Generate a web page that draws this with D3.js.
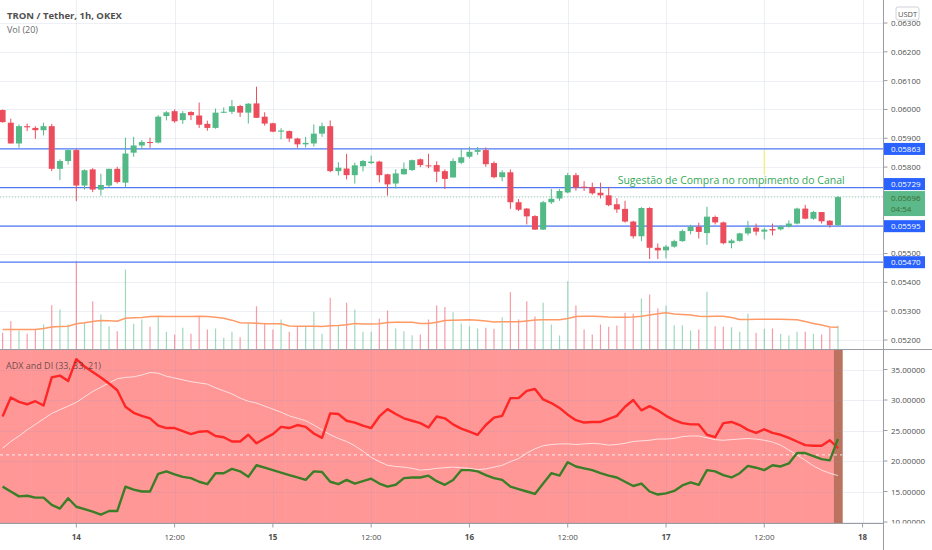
<!DOCTYPE html>
<html>
<head>
<meta charset="utf-8">
<script src="https://cdn.jsdelivr.net/npm/d3@7"></script>
<style>
  html, body { margin: 0; padding: 0; background: #fff; }
  svg { display: block; font-family: "Open Sans", "Liberation Sans", sans-serif; }
</style>
</head>
<body>
<div id="chart"></div>
<script>
// TRON / Tether, 1h, OKEX -- bars from 13th 15:00 to 17th 21:00
const openPrices = [
  0.05998, 0.05954, 0.05882, 0.05942, 0.05936, 0.05928, 0.05942, 0.05794, 0.05821, 0.05859,
  0.05736, 0.05792, 0.05722, 0.05736, 0.05794, 0.05746, 0.05850, 0.05875, 0.05887, 0.05885,
  0.05977, 0.05994, 0.05963, 0.05991, 0.05979, 0.05950, 0.05936, 0.05989, 0.05992, 0.06012,
  0.05989, 0.06021, 0.05975, 0.05952, 0.05923, 0.05925, 0.05899, 0.05879, 0.05882, 0.05916,
  0.05942, 0.05786, 0.05795, 0.05772, 0.05803, 0.05814, 0.05819, 0.05775, 0.05743, 0.05775,
  0.05790, 0.05827, 0.05806, 0.05807, 0.05786, 0.05764, 0.05815, 0.05836, 0.05853, 0.05859,
  0.05814, 0.05765, 0.05782, 0.05678, 0.05656, 0.05630, 0.05583, 0.05678, 0.05691, 0.05712,
  0.05772, 0.05732, 0.05731, 0.05711, 0.05702, 0.05671, 0.05655, 0.05611, 0.05560, 0.05658,
  0.05520, 0.05511, 0.05524, 0.05543, 0.05578, 0.05593, 0.05571, 0.05627, 0.05608, 0.05536,
  0.05544, 0.05570, 0.05590, 0.05576, 0.05585, 0.05584, 0.05594, 0.05604, 0.05656, 0.05621,
  0.05644, 0.05614, 0.05599
];
const highPrices = [
  0.06000, 0.05968, 0.05948, 0.05951, 0.05942, 0.05954, 0.05950, 0.05827, 0.05861, 0.05864,
  0.05792, 0.05796, 0.05777, 0.05794, 0.05801, 0.05902, 0.05905, 0.05894, 0.05902, 0.05980,
  0.05994, 0.06000, 0.05994, 0.05994, 0.06024, 0.05961, 0.06003, 0.06007, 0.06033, 0.06016,
  0.06022, 0.06079, 0.05990, 0.05954, 0.05935, 0.05927, 0.05902, 0.05905, 0.05948, 0.05954,
  0.05962, 0.05817, 0.05846, 0.05815, 0.05825, 0.05840, 0.05822, 0.05777, 0.05792, 0.05816,
  0.05826, 0.05830, 0.05846, 0.05820, 0.05792, 0.05830, 0.05863, 0.05870, 0.05870, 0.05868,
  0.05820, 0.05789, 0.05792, 0.05689, 0.05658, 0.05633, 0.05683, 0.05724, 0.05724, 0.05780,
  0.05780, 0.05751, 0.05746, 0.05746, 0.05731, 0.05692, 0.05683, 0.05614, 0.05661, 0.05661,
  0.05535, 0.05530, 0.05548, 0.05583, 0.05600, 0.05607, 0.05662, 0.05632, 0.05611, 0.05550,
  0.05572, 0.05613, 0.05604, 0.05590, 0.05604, 0.05597, 0.05615, 0.05659, 0.05669, 0.05648,
  0.05644, 0.05616, 0.05700
];
const lowPrices = [
  0.05954, 0.05882, 0.05867, 0.05925, 0.05898, 0.05910, 0.05786, 0.05755, 0.05809, 0.05682,
  0.05722, 0.05713, 0.05701, 0.05730, 0.05743, 0.05729, 0.05836, 0.05863, 0.05867, 0.05882,
  0.05962, 0.05954, 0.05950, 0.05963, 0.05936, 0.05926, 0.05933, 0.05987, 0.05984, 0.05974,
  0.05951, 0.05971, 0.05944, 0.05921, 0.05896, 0.05887, 0.05867, 0.05868, 0.05871, 0.05905,
  0.05782, 0.05771, 0.05757, 0.05743, 0.05785, 0.05811, 0.05747, 0.05701, 0.05726, 0.05774,
  0.05786, 0.05800, 0.05796, 0.05748, 0.05724, 0.05764, 0.05810, 0.05830, 0.05842, 0.05801,
  0.05761, 0.05751, 0.05655, 0.05647, 0.05601, 0.05582, 0.05582, 0.05672, 0.05683, 0.05709,
  0.05718, 0.05717, 0.05704, 0.05691, 0.05664, 0.05641, 0.05607, 0.05552, 0.05543, 0.05481,
  0.05481, 0.05483, 0.05520, 0.05541, 0.05567, 0.05552, 0.05530, 0.05601, 0.05532, 0.05518,
  0.05541, 0.05563, 0.05563, 0.05549, 0.05563, 0.05580, 0.05590, 0.05601, 0.05619, 0.05617,
  0.05604, 0.05590, 0.05594
];
const closePrices = [
  0.05956, 0.05882, 0.05942, 0.05938, 0.05928, 0.05942, 0.05794, 0.05821, 0.05859, 0.05736,
  0.05789, 0.05722, 0.05738, 0.05794, 0.05748, 0.05847, 0.05875, 0.05887, 0.05885, 0.05975,
  0.05990, 0.05959, 0.05987, 0.05980, 0.05947, 0.05936, 0.05989, 0.05992, 0.06011, 0.05989,
  0.06020, 0.05971, 0.05951, 0.05923, 0.05927, 0.05899, 0.05879, 0.05884, 0.05916, 0.05942,
  0.05786, 0.05798, 0.05772, 0.05806, 0.05821, 0.05819, 0.05772, 0.05740, 0.05778, 0.05794,
  0.05824, 0.05807, 0.05803, 0.05784, 0.05759, 0.05821, 0.05834, 0.05853, 0.05859, 0.05810,
  0.05765, 0.05782, 0.05678, 0.05652, 0.05629, 0.05583, 0.05678, 0.05690, 0.05717, 0.05772,
  0.05729, 0.05728, 0.05709, 0.05702, 0.05668, 0.05653, 0.05611, 0.05560, 0.05658, 0.05520,
  0.05511, 0.05524, 0.05543, 0.05578, 0.05593, 0.05575, 0.05628, 0.05608, 0.05536, 0.05545,
  0.05570, 0.05590, 0.05576, 0.05583, 0.05580, 0.05594, 0.05604, 0.05656, 0.05621, 0.05644,
  0.05612, 0.05599, 0.05696
];
// volume (thousand TRX) and its 20-bar average
const volumes = [
  333, 567, 380, 313, 400, 500, 887, 800, 500, 1767,
  547, 967, 700, 467, 367, 1600, 513, 600, 453, 667,
  353, 300, 433, 313, 667, 400, 420, 233, 353, 247,
  520, 867, 513, 400, 600, 353, 467, 467, 753, 313,
  1033, 487, 933, 800, 353, 353, 613, 780, 420, 367,
  287, 300, 600, 880, 850, 747, 520, 467, 420, 433,
  413, 647, 1147, 600, 967, 660, 933, 500, 280, 1367,
  880, 400, 300, 500, 453, 480, 733, 713, 1020, 1100,
  820, 880, 487, 487, 380, 400, 1153, 467, 453, 447,
  353, 713, 333, 413, 420, 313, 280, 353, 353, 313,
  300, 433, 480
];
const volumeMA = [
  400, 400, 400, 400, 400, 420, 450, 460, 467, 515,
  535, 560, 580, 575, 567, 625, 633, 640, 660, 667,
  660, 660, 660, 660, 667, 660, 645, 627, 587, 535,
  530, 525, 515, 515, 513, 470, 465, 465, 467, 460,
  475, 480, 495, 520, 510, 510, 515, 540, 547, 547,
  547, 520, 520, 545, 580, 587, 590, 593, 587, 570,
  550, 553, 553, 553, 570, 590, 593, 595, 595, 620,
  660, 667, 667, 660, 650, 645, 647, 650, 667, 690,
  713, 733, 710, 700, 690, 665, 660, 665, 665, 640,
  600, 600, 605, 607, 607, 605, 600, 593, 560, 520,
  490, 450, 447
];
// ADX and DI (33, 33, 21)
const diPlus = [
  15.8, 15.0, 14.2, 14.3, 14.0, 14.0, 12.8, 12.2, 13.9, 12.5,
  12.1, 11.7, 11.2, 11.8, 11.8, 15.8, 15.3, 15.0, 15.0, 17.9,
  18.3, 17.8, 17.4, 17.2, 16.6, 16.2, 18.0, 18.0, 18.7, 18.3,
  17.4, 19.3, 18.9, 18.5, 18.1, 17.7, 17.3, 16.9, 18.3, 18.2,
  16.6, 16.2, 16.9, 16.3, 16.7, 17.1, 16.3, 15.8, 16.1, 17.2,
  17.3, 17.3, 17.6, 16.7, 16.1, 16.9, 18.5, 18.5, 18.3, 17.7,
  17.2, 16.9, 15.8, 15.4, 15.0, 14.6, 16.3, 18.0, 17.6, 19.8,
  19.1, 18.8, 18.5, 18.0, 17.6, 17.3, 16.6, 15.9, 16.3, 15.0,
  14.5, 14.7, 15.1, 16.0, 16.5, 16.1, 18.5, 18.3, 17.7, 17.3,
  18.0, 19.2, 18.9, 18.5, 19.3, 19.1, 19.6, 21.3, 21.3, 20.8,
  20.3, 20.1, 23.6
];
const diMinus = [
  27.3, 30.4, 29.7, 29.3, 29.8, 29.1, 33.7, 34.0, 33.1, 36.7,
  35.5, 34.6, 33.7, 32.7, 31.6, 28.9, 27.9, 27.4, 27.0, 25.8,
  25.4, 25.4, 24.9, 24.4, 24.8, 24.9, 24.1, 23.9, 23.2, 23.2,
  24.3, 22.9, 23.7, 24.4, 25.6, 25.4, 25.9, 25.6, 24.5, 23.8,
  27.8, 27.7, 26.6, 26.3, 25.8, 25.4, 27.3, 28.5, 27.7, 27.0,
  26.6, 26.2, 25.5, 27.3, 27.0, 26.0, 25.3, 24.8, 24.3, 25.9,
  27.1, 27.4, 30.3, 30.3, 31.5, 31.8, 30.1, 29.5, 28.7, 27.6,
  26.7, 26.3, 26.4, 26.4, 26.9, 27.4, 28.9, 30.0, 28.3, 29.0,
  28.3, 27.4, 26.7, 26.2, 26.0, 26.0, 24.3, 23.9, 26.2, 26.4,
  25.9, 25.1, 24.6, 25.2, 24.6, 24.3, 23.8, 23.2, 22.6, 22.5,
  22.5, 23.4, 22.1
];
const adxValues = [
  22.1, 23.2, 24.1, 25.1, 26.0, 26.9, 27.8, 28.4, 29.0, 29.6,
  30.5, 31.4, 32.1, 32.8, 33.5, 33.7, 33.8, 34.1, 34.5, 34.4,
  33.9, 33.6, 33.3, 33.0, 32.8, 32.6, 32.0, 31.5, 31.0, 30.3,
  29.8, 29.5, 29.0, 28.5, 28.0, 27.4, 27.0, 26.6, 25.9, 25.1,
  24.3, 23.7, 23.2, 22.5, 21.6, 20.6, 19.9, 19.3, 19.1, 19.0,
  18.8, 18.5, 18.6, 18.8, 18.9, 19.0, 18.9, 18.8, 18.6, 18.7,
  19.0, 19.3, 19.9, 20.4, 21.3, 22.0, 22.5, 22.7, 22.8, 22.8,
  22.7, 22.8, 22.9, 22.8, 22.6, 22.7, 22.9, 23.2, 23.3, 23.4,
  23.6, 23.6, 23.7, 24.0, 24.1, 24.1, 23.8, 23.5, 23.4, 23.5,
  23.6, 23.7, 23.6, 23.4, 23.1, 22.6, 21.8, 21.0, 20.1, 19.2,
  18.5, 18.0, 17.6
];
const adxKeyLevel = 21;

// drawn horizontal levels and the live price
const levelPrices = [0.05863, 0.05729, 0.05595, 0.05470];
const lastPrice = 0.05696;
const barCountdown = '04:54';

const priceTicks = [0.052, 0.053, 0.054, 0.055, 0.056, 0.057, 0.058, 0.059, 0.060, 0.061, 0.062, 0.063];
const adxTicks = [10, 15, 20, 25, 30, 35];
const timeTickBars = [9, 21, 33, 45, 57, 69, 81, 93, 105];
const timeTickLabels = ['14', '12:00', '15', '12:00', '16', '12:00', '17', '12:00', '18'];

const noteText = 'Sugestão de Compra no rompimento do Canal';
const noteBar = 75.1;
const notePrice = 0.05741;
const markBar = 93;
const markPrices = [0.05859, 0.05773];

// ---------------------------------------------------------------
const W = 932, H = 550;
const axisX = 883.5;
const mainBottom = 349.5;
const adxBottom = 523.5;

const UP = '#53b987', DOWN = '#eb4d5c';
const GRID = '#edf0f5';
const TEXT = '#4f4f4f';

const x = d3.scaleLinear().domain([0, 102]).range([2.6, 838]);
const step = x(1) - x(0);
const y = d3.scaleLinear().domain([0.052, 0.063]).range([340, 23]);
const yVol = d3.scaleLinear().domain([0, 2000]).range([mainBottom, mainBottom - 100]);
const yAdx = d3.scaleLinear().domain([10, 35]).range([522, 369.5]);
const fmtPrice = d3.format('.5f');

const svg = d3.select('#chart').append('svg')
  .attr('width', W)
  .attr('height', H);

svg.append('rect').attr('width', W).attr('height', H).attr('fill', '#fff');

const defs = svg.append('defs');
defs.append('clipPath').attr('id', 'clip-main')
  .append('rect').attr('x', 0).attr('y', 0).attr('width', axisX).attr('height', mainBottom);
defs.append('clipPath').attr('id', 'clip-adx')
  .append('rect').attr('x', 0).attr('y', mainBottom).attr('width', axisX).attr('height', adxBottom - mainBottom);
defs.append('clipPath').attr('id', 'clip-adx-axis')
  .append('rect').attr('x', axisX).attr('y', mainBottom).attr('width', W - axisX).attr('height', adxBottom - mainBottom);

// ADX pane background, coloured per bar (opaque so neighbours do not stack)
const adxPane = svg.append('g').attr('clip-path', 'url(#clip-adx)');
adxPane.selectAll('rect.bg').data(diPlus).enter().append('rect')
  .attr('x', (d, i) => x(i) - step / 2)
  .attr('y', mainBottom)
  .attr('width', step + 0.6)
  .attr('height', adxBottom - mainBottom)
  .attr('fill', (d, i) => d > diMinus[i] ? '#bb735f' : '#ff9797');

// grid (drawn over the pane colour, faint)
const grid = svg.append('g').attr('stroke-width', 1);
grid.selectAll('.hmain').data(priceTicks).enter().append('line')
  .attr('stroke', GRID)
  .attr('x1', 0).attr('x2', axisX)
  .attr('y1', d => Math.round(y(d)) + 0.5).attr('y2', d => Math.round(y(d)) + 0.5);
grid.selectAll('.hadx').data(adxTicks).enter().append('line')
  .attr('stroke', d => 'rgba(150,150,190,0.16)')
  .attr('x1', 0).attr('x2', axisX)
  .attr('y1', d => Math.round(yAdx(d)) + 0.5).attr('y2', d => Math.round(yAdx(d)) + 0.5);
grid.selectAll('.v').data(timeTickBars).enter().append('line')
  .attr('stroke', 'rgba(150,150,190,0.16)')
  .attr('x1', d => Math.round(x(d)) + 0.5).attr('x2', d => Math.round(x(d)) + 0.5)
  .attr('y1', 0).attr('y2', adxBottom);

adxPane.append('line')
  .attr('x1', 0).attr('x2', x(102) + step / 2)
  .attr('y1', yAdx(adxKeyLevel)).attr('y2', yAdx(adxKeyLevel))
  .attr('stroke', 'rgba(255,255,255,0.85)')
  .attr('stroke-dasharray', '3,3');

const adxLine = d3.line().x((d, i) => x(i)).y(d => yAdx(d));
const adxLines = svg.append('g').attr('clip-path', 'url(#clip-adx)');
adxLines.append('path').datum(adxValues)
  .attr('d', adxLine).attr('fill', 'none')
  .attr('stroke', 'rgba(255,255,255,0.7)').attr('stroke-width', 1);
adxLines.append('path').datum(diMinus)
  .attr('d', adxLine).attr('fill', 'none')
  .attr('stroke', '#ff2626').attr('stroke-width', 2.4).attr('stroke-linejoin', 'round');
adxLines.append('path').datum(diPlus)
  .attr('d', adxLine).attr('fill', 'none')
  .attr('stroke', '#3c7d28').attr('stroke-width', 2.4).attr('stroke-linejoin', 'round');

// main pane
const main = svg.append('g').attr('clip-path', 'url(#clip-main)');

main.selectAll('line.vol').data(volumes).enter().append('line')
  .attr('x1', (d, i) => x(i)).attr('x2', (d, i) => x(i))
  .attr('y1', yVol(0)).attr('y2', d => yVol(d))
  .attr('stroke', (d, i) => closePrices[i] >= openPrices[i] ? UP : DOWN)
  .attr('stroke-opacity', 0.55)
  .attr('stroke-width', 1.2);

main.append('path').datum(volumeMA)
  .attr('d', d3.line().x((d, i) => x(i)).y(d => yVol(d)))
  .attr('fill', 'none').attr('stroke', '#ff9a66').attr('stroke-width', 1.5);

main.selectAll('line.level').data(levelPrices).enter().append('line')
  .attr('x1', 0).attr('x2', axisX)
  .attr('y1', d => y(d)).attr('y2', d => y(d))
  .attr('stroke', '#4f78f5').attr('stroke-width', 1.3);

main.append('line')
  .attr('x1', 0).attr('x2', axisX)
  .attr('y1', y(lastPrice)).attr('y2', y(lastPrice))
  .attr('stroke', '#9fd6b4').attr('stroke-width', 1)
  .attr('stroke-dasharray', '1,2');

const candles = main.selectAll('g.candle').data(openPrices).enter().append('g')
  .attr('fill', (d, i) => closePrices[i] >= d ? UP : DOWN)
  .attr('stroke', (d, i) => closePrices[i] >= d ? UP : DOWN);
candles.append('line')
  .attr('x1', (d, i) => x(i)).attr('x2', (d, i) => x(i))
  .attr('y1', (d, i) => y(highPrices[i])).attr('y2', (d, i) => y(lowPrices[i]))
  .attr('stroke-width', 1);
candles.append('rect')
  .attr('stroke', 'none')
  .attr('x', (d, i) => x(i) - 3)
  .attr('width', 6)
  .attr('y', (d, i) => y(Math.max(d, closePrices[i])))
  .attr('height', (d, i) => Math.max(1, Math.abs(y(d) - y(closePrices[i]))));

main.append('line')
  .attr('x1', x(markBar)).attr('x2', x(markBar))
  .attr('y1', y(markPrices[0])).attr('y2', y(markPrices[1]))
  .attr('stroke', '#f5f06a').attr('stroke-width', 1.2);

main.append('text')
  .attr('x', x(noteBar)).attr('y', y(notePrice))
  .attr('font-size', 10.5)
  .attr('fill', '#36a957')
  .text(noteText);

// legends
svg.append('text').attr('x', 7).attr('y', 19)
  .attr('font-size', 9.5).attr('font-weight', 'bold').attr('fill', TEXT)
  .text('TRON / Tether, 1h, OKEX');
svg.append('text').attr('x', 7).attr('y', 33)
  .attr('font-size', 9).attr('fill', '#6a6a6a')
  .text('Vol (20)');
svg.append('text').attr('x', 6).attr('y', 369)
  .attr('font-size', 9).attr('fill', 'rgba(70,55,55,0.8)')
  .text('ADX and DI (33, 33, 21)');

// frame lines
svg.append('line').attr('x1', 0).attr('x2', W).attr('y1', mainBottom).attr('y2', mainBottom)
  .attr('stroke', '#9a9ca3');
svg.append('line').attr('x1', 0).attr('x2', axisX).attr('y1', adxBottom).attr('y2', adxBottom)
  .attr('stroke', '#9a9ca3');
svg.append('line').attr('x1', axisX).attr('x2', axisX).attr('y1', 0).attr('y2', H)
  .attr('stroke', '#9a9ca3');

// price-axis tags: level lines and the live price
const boxW = 41, boxH = 12;
const lastTop = y(lastPrice) - 6;
const lastH = 25;
const levelTops = levelPrices.map(p => {
  let top = y(p) - boxH / 2;
  if (top + boxH > lastTop - 1 && top < lastTop + lastH) top = lastTop - 1 - boxH;
  return top;
});
const tagSpans = levelTops.map(t => [t, t + boxH]).concat([[lastTop, lastTop + lastH]]);

// price axis; labels fully covered by a tag are left out, a half covered one is nudged up
const pAxis = svg.append('g');
pAxis.selectAll('line').data(priceTicks).enter().append('line')
  .attr('x1', axisX).attr('x2', axisX + 4)
  .attr('y1', d => y(d)).attr('y2', d => y(d))
  .attr('stroke', '#9a9ca3');
const tickLabelPos = priceTicks.map(p => {
  let base = y(p) + 3;
  for (const [t, b] of tagSpans) {
    if (base - 6 < b && base > t) {
      if (base - t < 3.5) base = t - 0.5;
      else return null;
    }
  }
  return base;
});
pAxis.selectAll('text').data(priceTicks.filter((p, i) => tickLabelPos[i] !== null)).enter().append('text')
  .attr('x', 891).attr('y', d => tickLabelPos[priceTicks.indexOf(d)])
  .attr('font-size', 8).attr('fill', TEXT)
  .text(d => fmtPrice(d));

// ADX axis
const aAxis = svg.append('g').attr('clip-path', 'url(#clip-adx-axis)');
aAxis.selectAll('line').data(adxTicks).enter().append('line')
  .attr('x1', axisX).attr('x2', axisX + 4)
  .attr('y1', d => yAdx(d)).attr('y2', d => yAdx(d))
  .attr('stroke', '#9a9ca3');
aAxis.selectAll('text').data(adxTicks).enter().append('text')
  .attr('x', 891).attr('y', d => yAdx(d) + 3)
  .attr('font-size', 8).attr('fill', TEXT)
  .text(d => d3.format('.5f')(d));

// time axis
const tAxis = svg.append('g');
tAxis.selectAll('line').data(timeTickBars).enter().append('line')
  .attr('x1', d => x(d)).attr('x2', d => x(d))
  .attr('y1', adxBottom).attr('y2', adxBottom + 4)
  .attr('stroke', '#9a9ca3');
tAxis.selectAll('text').data(timeTickBars).enter().append('text')
  .attr('x', d => x(d)).attr('y', 540)
  .attr('text-anchor', 'middle')
  .attr('font-size', 8)
  .attr('font-weight', (d, i) => timeTickLabels[i].includes(':') ? 'normal' : 'bold')
  .attr('fill', TEXT)
  .text((d, i) => timeTickLabels[i]);

const levelTag = svg.append('g').selectAll('g').data(levelPrices).enter().append('g')
  .attr('transform', (d, i) => `translate(${axisX + 0.5},${levelTops[i]})`);
levelTag.append('rect').attr('width', boxW).attr('height', boxH).attr('fill', '#2962ff');
levelTag.append('text').attr('x', 7).attr('y', 8.8)
  .attr('font-size', 8).attr('fill', '#fff')
  .text(d => fmtPrice(d));

const lastTag = svg.append('g').attr('transform', `translate(${axisX + 0.5},${lastTop})`);
lastTag.append('rect').attr('width', boxW).attr('height', lastH).attr('fill', '#5cb98a');
lastTag.append('text').attr('x', 7).attr('y', 10)
  .attr('font-size', 8).attr('fill', '#3d6e33').text(fmtPrice(lastPrice));
lastTag.append('text').attr('x', 7).attr('y', 21)
  .attr('font-size', 8).attr('fill', '#3d6e33').text(barCountdown);

// currency badge
const badge = svg.append('g').attr('transform', 'translate(896,7)');
badge.append('rect').attr('width', 23).attr('height', 13).attr('rx', 2)
  .attr('fill', '#fff').attr('stroke', '#cfd2d8');
badge.append('text').attr('x', 11.5).attr('y', 9.5).attr('text-anchor', 'middle')
  .attr('font-size', 7.5).attr('fill', '#555').text('USDT');
</script>
</body>
</html>
